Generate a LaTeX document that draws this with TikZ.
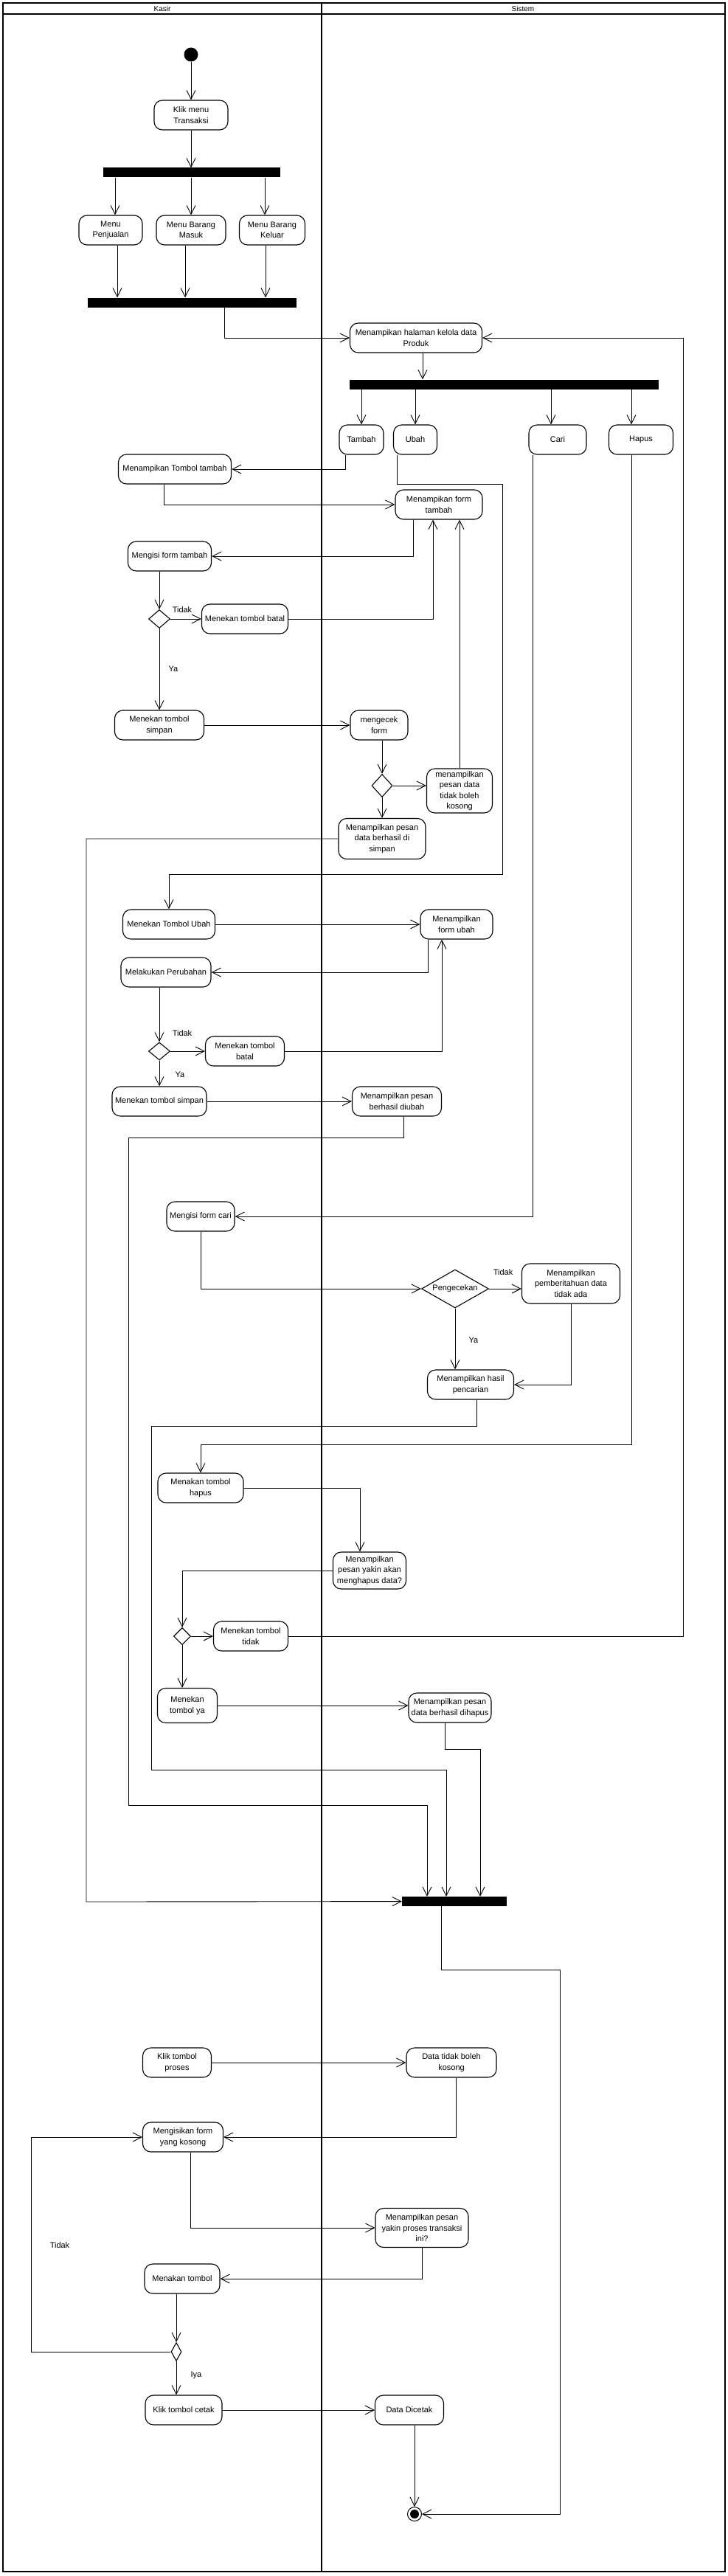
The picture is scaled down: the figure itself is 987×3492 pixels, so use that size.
\documentclass[tikz,border=0pt]{standalone}
\usepackage{fontspec}
\setmainfont{Liberation Sans}
\usetikzlibrary{arrows.meta,shapes.geometric}
\newcommand{\txt}{\fontsize{11}{14.5}\selectfont}
\newcommand{\hdrtxt}{\fontsize{10}{12}\selectfont}

\begin{document}
\begin{tikzpicture}[x=1pt,y=-1pt,
  act/.style={draw, rounded corners=11pt, line width=1.1pt, align=center,
    inner sep=2pt, minimum height=40pt, font=\txt},
  bar/.style={fill=black, inner sep=0pt, minimum height=13pt},
  dec/.style={diamond, draw, line width=1.1pt, inner sep=0pt, font=\txt},
  flow/.style={line width=0.9pt, -{Straight Barb[length=12pt,width=12pt]}},
  lane/.style={line width=2pt},
  lbl/.style={font=\txt},
  hdr/.style={font=\hdrtxt},
  ini/.style={circle, fill=black, minimum size=19pt, inner sep=0pt},
  fin/.style={circle, draw, line width=1pt, minimum size=19pt, inner sep=0pt,
    path picture={\fill (path picture bounding box.center) circle (6pt);}}]
  \useasboundingbox (0,0) rectangle (987,3492);
  \draw[lane] (4,4) rectangle (983,3486);
  \draw[lane] (4,19) -- (983,19);
  \draw[lane] (436,4) -- (436,3486);
  \node[hdr] (kasir) at (220,11.5) {Kasir};
  \node[hdr] (sistem) at (709,11.5) {Sistem};

  \node[ini] (start) at (259,74) {};
  \node[act, minimum width=100pt] (klik) at (259,156) {Klik menu\\Transaksi};
  \node[bar, minimum width=240pt] (fork1) at (260,234) {};
  \node[act, minimum width=86pt] (penj) at (150,312) {Menu\\Penjualan};
  \node[act, minimum width=94pt] (masuk) at (259,312) {Menu Barang\\Masuk};
  \node[act, minimum width=89pt] (keluar) at (369,312) {Menu Barang\\Keluar};
  \node[bar, minimum width=283pt] (join1) at (260.5,410) {};
  \node[act, minimum width=179pt] (halaman) at (564,458) {Menampikan halaman kelola data\\Produk};
  \node[bar, minimum width=419pt] (fork2) at (683.5,521) {};
  \node[act, minimum width=60pt] (tambah) at (490,596) {Tambah};
  \node[act, minimum width=59pt] (ubah) at (563,596) {Ubah};
  \node[act, minimum width=78pt] (cari) at (756,596) {Cari};
  \node[act, minimum width=87pt] (hapus) at (869,596) {Hapus};

  \node[act, minimum width=153pt] (tbltambah) at (237,636) {Menampikan Tombol tambah};
  \node[act, minimum width=118pt] (formtambah) at (595,684) {Menampikan form\\tambah};
  \node[act, minimum width=113pt] (isitambah) at (230,754) {Mengisi form tambah};
  \node[dec, minimum width=29pt, minimum height=25pt] (dec1) at (216,839) {};
  \node[act, minimum width=117pt] (bataltambah) at (332,839) {Menekan tombol batal};
  \node[act, minimum width=121pt] (simpantambah) at (216,983) {Menekan tombol\\simpan};
  \node[act, minimum width=78pt] (cek) at (514,983) {mengecek\\form};
  \node[dec, minimum width=28pt, minimum height=31pt] (dec2) at (518,1065) {};
  \node[act, minimum width=89pt, minimum height=60pt] (kosong) at (623,1072) {menampilkan\\pesan data\\tidak boleh\\kosong};
  \node[act, minimum width=118pt, minimum height=55pt] (berhasilsimpan) at (518,1137) {Menampilkan pesan\\data berhasil di\\simpan};
  \node[lbl] (tidak1) at (247,827) {Tidak};
  \node[lbl] (ya1) at (235,907) {Ya};

  \node[act, minimum width=125pt] (tblubah) at (229,1253) {Menekan Tombol Ubah};
  \node[act, minimum width=98pt] (formubah) at (619,1253) {Menampilkan\\form ubah};
  \node[act, minimum width=122pt] (perubahan) at (225,1318) {Melakukan Perubahan};
  \node[dec, minimum width=29pt, minimum height=24pt] (dec3) at (216,1425) {};
  \node[act, minimum width=107pt] (batalubah) at (332,1425) {Menekan tombol\\batal};
  \node[act, minimum width=128pt] (simpanubah) at (216,1493) {Menekan tombol simpan};
  \node[act, minimum width=121pt] (berhasilubah) at (538,1493) {Menampilkan pesan\\berhasil diubah};
  \node[lbl] (tidak2) at (247,1401) {Tidak};
  \node[lbl] (ya2) at (244,1457) {Ya};

  \node[act, minimum width=92pt] (isicari) at (272,1649) {Mengisi form cari};
  \node[dec, aspect=1.8, minimum width=91pt, minimum height=52pt] (pengecekan) at (617,1747) {Pengecekan};
  \node[act, minimum width=133pt, minimum height=54pt] (tidakada) at (774,1740) {Menampilkan\\pemberitahuan data\\tidak ada};
  \node[act, minimum width=117pt] (hasil) at (638,1877) {Menampilkan hasil\\pencarian};
  \node[lbl] (tidak3) at (682,1725) {Tidak};
  \node[lbl] (ya3) at (642,1817) {Ya};

  \node[act, minimum width=116pt] (tblhapus) at (272,2017) {Menakan tombol\\hapus};
  \node[act, minimum width=99pt, minimum height=50pt] (yakinhapus) at (501,2129) {Menampilkan\\pesan yakin akan\\menghapus data?};
  \node[dec, minimum width=23pt, minimum height=23pt] (dec4) at (247,2218) {};
  \node[act, minimum width=101pt] (tbltidak) at (340,2218) {Menekan tombol\\tidak};
  \node[act, minimum width=81pt, minimum height=47pt] (tblya) at (254,2312) {Menekan\\tombol ya};
  \node[act, minimum width=112pt] (berhasilhapus) at (610,2315) {Menampilkan pesan\\data berhasil dihapus};
  \node[bar, minimum width=142pt] (join2) at (616,2577.5) {};

  \node[act, minimum width=93pt] (proses) at (240,2796) {Klik tombol\\proses};
  \node[act, minimum width=122pt] (datakosong) at (612,2796) {Data tidak boleh\\kosong};
  \node[act, minimum width=109pt] (isikosong) at (248,2897) {Mengisikan form\\yang kosong};
  \node[act, minimum width=126pt, minimum height=53pt] (yakinproses) at (572,3020) {Menampilkan pesan\\yakin proses transaksi\\ini?};
  \node[act, minimum width=102pt] (menakan) at (247,3089) {Menakan tombol};
  \node[dec, minimum width=14pt, minimum height=25pt] (dec5) at (239,3188) {};
  \node[act, minimum width=104pt] (cetak) at (249,3267) {Klik tombol cetak};
  \node[act, minimum width=93pt] (dicetak) at (555,3267) {Data Dicetak};
  \node[fin] (end) at (562,3408) {};
  \node[lbl] (tidak4) at (81,3044) {Tidak};
  \node[lbl] (iya) at (266,3220) {Iya};

  \draw[flow] (start) -- (klik);
  \draw[flow] (klik) -- (klik |- fork1.north);
  \draw[flow] (fork1.south -| 156,0) -- (penj.north -| 156,0);
  \draw[flow] (fork1.south -| masuk) -- (masuk);
  \draw[flow] (fork1.south -| 359,0) -- (keluar.north -| 359,0);
  \draw[flow] (penj.south -| 159,0) -- (join1.north -| 159,0);
  \draw[flow] (masuk.south -| 251,0) -- (join1.north -| 251,0);
  \draw[flow] (keluar.south -| 360,0) -- (join1.north -| 360,0);
  \draw[flow] (join1.south -| 304,0) |- (halaman);
  \draw[flow] (halaman.south -| 573,0) -- (fork2.north -| 573,0);
  \draw[flow] (fork2.south -| tambah) -- (tambah);
  \draw[flow] (fork2.south -| ubah) -- (ubah);
  \draw[flow] (fork2.south -| 747,0) -- (cari.north -| 747,0);
  \draw[flow] (fork2.south -| 856,0) -- (hapus.north -| 856,0);

  \draw[flow] (tambah.south -| 468,0) |- (tbltambah);
  \draw[flow] (tbltambah.south -| 222,0) |- (formtambah);
  \draw[flow] (formtambah.south -| 560,0) |- (isitambah);
  \draw[flow] (isitambah.south -| dec1) -- (dec1);
  \draw[flow] (dec1) -- (bataltambah);
  \draw[flow] (bataltambah) -| (formtambah.south -| 587,0);
  \draw[flow] (dec1) -- (simpantambah);
  \draw[flow] (simpantambah) -- (cek);
  \draw[flow] (cek.south -| dec2) -- (dec2);
  \draw[flow] (dec2) -- (dec2 -| kosong.west);
  \draw[flow] (kosong) -- (kosong |- formtambah.south);
  \draw[flow] (dec2) -- (berhasilsimpan);
  \draw[flow] (berhasilsimpan) -| (117,2578) -- (join2);

  \draw[flow] (ubah.south -| 538,0) |- (681,656) |- (229,1185) -- (tblubah);
  \draw[flow] (tblubah) -- (formubah);
  \draw[flow] (formubah.south -| 580,0) |- (perubahan);
  \draw[flow] (perubahan.south -| dec3) -- (dec3);
  \draw[flow] (dec3) -- (batalubah);
  \draw[flow] (batalubah) -| (formubah.south -| 599,0);
  \draw[flow] (dec3) -- (simpanubah);
  \draw[flow] (simpanubah) -- (berhasilubah);
  \draw[flow] (berhasilubah.south -| 547,0) |- (174,1542) |- (579,2447) -- (join2.north -| 579,0);

  \draw[flow] (cari.south -| 722,0) |- (isicari);
  \draw[flow] (isicari) |- (pengecekan);
  \draw[flow] (pengecekan) -- (pengecekan -| tidakada.west);
  \draw[flow] (pengecekan) -- (pengecekan |- hasil.north);
  \draw[flow] (tidakada) |- (hasil);
  \draw[flow] (hasil.south -| 646,0) |- (205,1933) |- (605,2399) -- (join2.north -| 605,0);

  \draw[flow] (hapus.south -| 856,0) |- (272,1958) -- (tblhapus);
  \draw[flow] (tblhapus) -| (yakinhapus.north -| 488,0);
  \draw[flow] (yakinhapus) -| (dec4);
  \draw[flow] (dec4) -- (tbltidak);
  \draw[flow] (tbltidak) -| (926,458) -- (halaman);
  \draw[flow] (dec4) -- (dec4 |- tblya.north);
  \draw[flow] (tblya) -- (tblya -| berhasilhapus.west);
  \draw[flow] (berhasilhapus.south -| 603,0) |- (651,2371) -- (join2.north -| 651,0);
  \draw[flow] (join2.south -| 598,0) |- (759,2670) |- (end);

  \draw[flow] (proses) -- (datakosong);
  \draw[flow] (datakosong.south -| 618,0) |- (isikosong);
  \draw[flow] (isikosong.south -| 258,0) |- (yakinproses);
  \draw[flow] (yakinproses) |- (menakan);
  \draw[flow] (menakan.south -| dec5) -- (dec5);
  \draw[flow] (dec5) -| (42,2897) -- (isikosong);
  \draw[flow] (dec5) -- (dec5 |- cetak.north);
  \draw[flow] (cetak) -- (dicetak);
  \draw[flow] (dicetak.south -| end) -- (end);
\end{tikzpicture}
\end{document}
